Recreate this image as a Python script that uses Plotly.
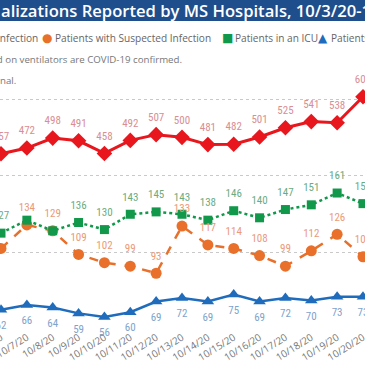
import plotly.graph_objects as go

# ---------------- data ----------------
dates = ["10/6/20", "10/7/20", "10/8/20", "10/9/20", "10/10/20", "10/11/20", "10/12/20",
         "10/13/20", "10/14/20", "10/15/20", "10/16/20", "10/17/20", "10/18/20",
         "10/19/20", "10/20/20"]
confirmed = [457, 472, 498, 491, 458, 492, 507, 500, 481, 482, 501, 525, 541, 538, 606]
suspected = [114, 134, 129, 109, 102, 99, 93, 133, 117, 114, 108, 99, 112, 126, 107]
icu = [127, 138, 129, 136, 130, 143, 145, 143, 138, 146, 140, 147, 151, 161, 152]
ventilators = [62, 66, 64, 59, 56, 60, 69, 72, 69, 75, 69, 72, 70, 73, 73]

# labels that the original hides because they overlap
hidden_suspected = {0}
hidden_icu = {1, 2}

series_names = ["Patients with Confirmed Infection", "Patients with Suspected Infection",
                "Patients in an ICU", "Patients on Ventilators"]
title_text = "alizations Reported by MS Hospitals, 10/3/20-10/21/20"
note_text = "*Patients in an ICU and on ventilators are COVID-19 confirmed."
note2_text = "Data are provisional."

# ---------------- geometry helpers ----------------
W, H = 365, 365
ML, MR, MT, MB = 0, 0, 85, 36
PH = H - MT - MB


def py(pix):
    return (H - MB - pix) / PH


def px(pix):
    return pix / W


RED, ORANGE, GREEN, BLUE = "#e8161d", "#e8702a", "#12984a", "#1f6cbc"
RED_L, ORANGE_L, GREEN_L, BLUE_L = "#d98e92", "#eb9a78", "#6aac82", "#7ea3cc"
LABEL_FONT = "Liberation Sans Narrow, Roboto Condensed, Arial Narrow, sans-serif"
UI_FONT = "Open Sans, Noto Sans, sans-serif"


def labels(vals, hidden=()):
    return [("" if i in hidden else str(v)) for i, v in enumerate(vals)]


fig = go.Figure()

specs = [
    (confirmed, RED, RED_L, "solid", "diamond", 12, 3, "y", "top center", set()),
    (suspected, ORANGE, ORANGE_L, "dash", "circle", 11, 2.5, "y2", "top center", hidden_suspected),
    (icu, GREEN, GREEN_L, "dot", "square", 9, 2.5, "y2", "top center", hidden_icu),
    (ventilators, BLUE, BLUE_L, "solid", "triangle-up", 11, 2.5, "y2", "bottom center", set()),
]

for (vals, col, lcol, dash, sym, msize, lw, yax, tpos, hid), name in zip(specs, series_names):
    fig.add_trace(go.Scatter(
        x=dates, y=vals, name=name, mode="lines+markers", yaxis=yax,
        line=dict(color=col, width=lw, dash=dash),
        marker=dict(symbol=sym, size=msize, color=col),
        cliponaxis=False, showlegend=False))
for (vals, col, lcol, dash, sym, msize, lw, yax, tpos, hid), name in zip(specs, series_names):
    fig.add_trace(go.Scatter(
        x=dates, y=vals, mode="markers+text", yaxis=yax,
        text=labels(vals, hid), textposition=tpos,
        textfont=dict(family=LABEL_FONT, size=11, color=lcol),
        marker=dict(size=16, opacity=0),
        cliponaxis=False, showlegend=False, hoverinfo="skip"))

step = 362 / 14.0
fig.update_layout(
    width=W, height=H,
    margin=dict(l=ML, r=MR, t=MT, b=MB),
    paper_bgcolor="white", plot_bgcolor="white",
    showlegend=False,
    xaxis=dict(type="category", range=[-1 / step, 14 + 2 / step], automargin=False,
               tickangle=-32, tickfont=dict(family=UI_FONT, size=10, color="#777777"),
               showgrid=False, zeroline=False, showline=False, ticks=""),
    yaxis=dict(range=[0, PH / 0.38333], dtick=200, showgrid=True, griddash="dot",
               gridcolor="#c9c9c9", gridwidth=1, showticklabels=False, zeroline=False,
               automargin=False),
    yaxis2=dict(range=[(383 - 329) / 1.18, (383 - 85) / 1.18], overlaying="y",
                showgrid=False, showticklabels=False, zeroline=False, automargin=False),
)

# title bar
fig.add_shape(type="rect", xref="paper", yref="paper", x0=-0.05, x1=1.05,
              y0=py(21), y1=py(-5), fillcolor="#1f4e8c", line_width=0, layer="above")
fig.add_annotation(text=title_text, xref="paper", yref="paper", x=px(-1), y=py(10.5),
                   xanchor="left", yanchor="middle", showarrow=False,
                   font=dict(family=UI_FONT, size=16.6, color="white", weight=600))

# legend row
leg_y = py(38)
fig.add_annotation(text=series_names[0], xref="paper", yref="paper", x=px(40), y=leg_y,
                   xanchor="right", yanchor="middle", showarrow=False,
                   font=dict(family=UI_FONT, size=10.1, color="#666666"))
legend_items = [("●", ORANGE, 47, 53, series_names[1]),
                ("■", GREEN, 227, 233, series_names[2]),
                ("▲", BLUE, 323, 329, series_names[3])]
for glyph, col, gx, tx, txt in legend_items:
    fig.add_annotation(text=glyph, xref="paper", yref="paper", x=px(gx), y=leg_y,
                       xanchor="center", yanchor="middle", showarrow=False,
                       font=dict(family="DejaVu Sans", size=12, color=col))
    fig.add_annotation(text=txt, xref="paper", yref="paper", x=px(tx), y=leg_y,
                       xanchor="left", yanchor="middle", showarrow=False,
                       font=dict(family=UI_FONT, size=10.1, color="#666666"))

fig.add_annotation(text=note_text, xref="paper", yref="paper", x=px(184), y=py(60),
                   xanchor="right", yanchor="middle", showarrow=False,
                   font=dict(family=UI_FONT, size=9.7, color="#777777"))
fig.add_annotation(text=note2_text, xref="paper", yref="paper", x=px(18), y=py(80),
                   xanchor="right", yanchor="middle", showarrow=False,
                   font=dict(family=UI_FONT, size=9.7, color="#777777"))

fig.write_html("out.html", config={"displayModeBar": False},
               post_script="document.body.style.margin='0px';")
